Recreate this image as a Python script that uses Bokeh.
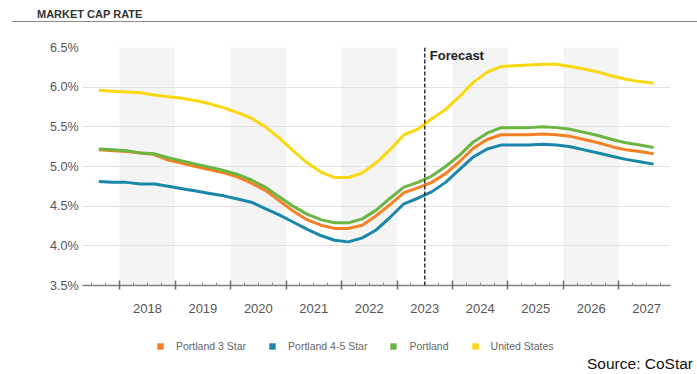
from bokeh.plotting import figure
from bokeh.layouts import column
from bokeh.models import (Range1d, FixedTicker, LinearAxis, Span, Label, Legend, Div,
                          LegendItem, PrintfTickFormatter, ColumnDataSource,
                          CustomLabelingPolicy)
from bokeh.embed import file_html
from bokeh.resources import INLINE

# ---------------- data ----------------
quarters = ["2017Q3", "2017Q4",
            "2018Q1", "2018Q2", "2018Q3", "2018Q4",
            "2019Q1", "2019Q2", "2019Q3", "2019Q4",
            "2020Q1", "2020Q2", "2020Q3", "2020Q4",
            "2021Q1", "2021Q2", "2021Q3", "2021Q4",
            "2022Q1", "2022Q2", "2022Q3", "2022Q4",
            "2023Q1", "2023Q2", "2023Q3", "2023Q4",
            "2024Q1", "2024Q2", "2024Q3", "2024Q4",
            "2025Q1", "2025Q2", "2025Q3", "2025Q4",
            "2026Q1", "2026Q2", "2026Q3", "2026Q4",
            "2027Q1", "2027Q2", "2027Q3"]

united_states = [5.96, 5.95, 5.94, 5.93, 5.90, 5.88, 5.86, 5.83, 5.79, 5.74,
                 5.68, 5.61, 5.50, 5.36, 5.20, 5.05, 4.93, 4.86, 4.86, 4.92,
                 5.05, 5.21, 5.40, 5.47, 5.60, 5.72, 5.88, 6.06, 6.19, 6.26,
                 6.27, 6.28, 6.29, 6.29, 6.26, 6.23, 6.19, 6.14, 6.10, 6.07, 6.05]
portland = [5.22, 5.21, 5.20, 5.17, 5.16, 5.11, 5.07, 5.03, 4.99, 4.95,
            4.90, 4.83, 4.74, 4.62, 4.50, 4.40, 4.33, 4.29, 4.29, 4.34,
            4.45, 4.60, 4.74, 4.80, 4.88, 5.00, 5.14, 5.31, 5.42, 5.49,
            5.49, 5.49, 5.50, 5.49, 5.47, 5.43, 5.39, 5.34, 5.30, 5.27, 5.24]
portland_3_star = [5.21, 5.20, 5.19, 5.17, 5.15, 5.08, 5.04, 5.00, 4.96, 4.92,
                   4.87, 4.79, 4.70, 4.57, 4.44, 4.33, 4.26, 4.22, 4.22, 4.26,
                   4.38, 4.52, 4.67, 4.73, 4.80, 4.91, 5.06, 5.23, 5.34, 5.40,
                   5.40, 5.40, 5.41, 5.40, 5.38, 5.34, 5.30, 5.25, 5.21, 5.19, 5.16]
portland_45_star = [4.81, 4.80, 4.80, 4.78, 4.78, 4.75, 4.72, 4.69, 4.66, 4.63,
                    4.59, 4.55, 4.47, 4.39, 4.30, 4.21, 4.13, 4.07, 4.05, 4.10,
                    4.20, 4.36, 4.53, 4.60, 4.68, 4.80, 4.96, 5.12, 5.22, 5.27,
                    5.27, 5.27, 5.28, 5.27, 5.25, 5.21, 5.17, 5.13, 5.09, 5.06, 5.03]

years = [2018, 2019, 2020, 2021, 2022, 2023, 2024, 2025, 2026, 2027]
shaded_years = [2018, 2020, 2022, 2024, 2026]
y_ticks = [3.5, 4.0, 4.5, 5.0, 5.5, 6.0, 6.5]
forecast_start = 2023.5

series_names = ["Portland 3 Star", "Portland 4-5 Star", "Portland", "United States"]
series_colors = ["#F58025", "#1A86A9", "#6BB543", "#FBD70F"]

title_text = "MARKET CAP RATE"
source_text = "Source: CoStar"

# quarter label -> decimal year (middle of quarter)
xq = [int(q[:4]) + (int(q[5]) - 1) * 0.25 + 0.125 for q in quarters]

FONT = "Liberation Sans"
W = 697
HEADER_H = 28
MAIN_H = 287
LEGEND_H = 41
SOURCE_H = 374 - HEADER_H - MAIN_H - LEGEND_H
NAN = float("nan")

# ---------------- header ----------------
header_html = (
    '<div style="position:relative;width:697px;height:28px;margin:0;padding:0;">'
    '<div style="position:absolute;left:37px;top:8px;font-family:\'Liberation Sans\';'
    'font-size:11px;font-weight:bold;color:#333333;line-height:13px;white-space:nowrap;">'
    + title_text +
    '</div>'
    '<div style="position:absolute;left:12px;width:685px;top:21px;height:0;'
    'border-top:1.5px solid #8a8a8a;"></div>'
    '</div>'
)
hdr = Div(text=header_html, width=W, height=HEADER_H, margin=(0, 0, 0, 0))

# ---------------- main ----------------
x0, x1 = 2017.33, 2027.93
p = figure(width=W, height=MAIN_H, output_backend="svg", toolbar_location=None,
           x_range=Range1d(x0, x1), y_range=Range1d(3.5, 6.5),
           x_axis_location=None, y_axis_location=None,
           min_border_left=82, min_border_right=27, min_border_top=19, min_border_bottom=30)
p.outline_line_color = None
p.background_fill_color = "white"
p.border_fill_color = "white"

# alternate year shading
p.quad(left=shaded_years, right=[y + 1 for y in shaded_years], bottom=3.5, top=6.5,
       fill_color="#f4f4f4", line_color=None, level="image")

# y axis
yaxis = LinearAxis(ticker=FixedTicker(ticks=y_ticks),
                   formatter=PrintfTickFormatter(format="%.1f%%"))
yaxis.axis_line_color = None
yaxis.major_tick_line_color = None
yaxis.minor_tick_line_color = None
yaxis.major_tick_in = 0
yaxis.major_tick_out = 0
yaxis.major_label_standoff = 4
yaxis.major_label_text_font = FONT
yaxis.major_label_text_font_size = "12.5px"
yaxis.major_label_text_color = "#555555"
p.add_layout(yaxis, "left")

p.xgrid.visible = False
p.ygrid.ticker = FixedTicker(ticks=y_ticks)
p.ygrid.grid_line_color = "#e2e2e2"
p.ygrid.grid_line_width = 1

# x axis: year boundary ticks + quarter minor ticks (labels suppressed)
minor = [y + f for y in range(2017, 2028) for f in (0.25, 0.5, 0.75)]
minor = [m for m in minor if x0 < m < x1]
xaxisA = LinearAxis(ticker=FixedTicker(ticks=years, minor_ticks=minor))
xaxisA.axis_line_color = "#808080"
xaxisA.axis_line_width = 1.5
xaxisA.major_tick_line_color = "#707070"
xaxisA.major_tick_line_width = 1.5
xaxisA.major_tick_in = 5
xaxisA.major_tick_out = 4
xaxisA.minor_tick_line_color = "#909090"
xaxisA.minor_tick_line_width = 1
xaxisA.minor_tick_in = 3
xaxisA.minor_tick_out = 0
xaxisA.major_label_policy = CustomLabelingPolicy(code="return []")
xaxisA.major_label_standoff = 0
p.add_layout(xaxisA, "below")

# x axis: year labels centred in each year
mids = [y + 0.5 for y in years]
xaxisB = LinearAxis(ticker=FixedTicker(ticks=mids, minor_ticks=[]))
xaxisB.major_label_overrides = {m: str(y) for m, y in zip(mids, years)}
xaxisB.axis_line_color = None
xaxisB.major_tick_line_color = None
xaxisB.minor_tick_line_color = None
xaxisB.major_tick_in = 0
xaxisB.major_tick_out = 0
xaxisB.major_label_standoff = 3
xaxisB.major_label_text_font = FONT
xaxisB.major_label_text_font_size = "13px"
xaxisB.major_label_text_color = "#555555"
p.add_layout(xaxisB, "below")

# lines
src = ColumnDataSource(dict(x=xq, us=united_states, p45=portland_45_star,
                            p3=portland_3_star, pt=portland))
p.line("x", "us", source=src, line_color=series_colors[3], line_width=3)
p.line("x", "p45", source=src, line_color=series_colors[1], line_width=3)
p.line("x", "p3", source=src, line_color=series_colors[0], line_width=3)
p.line("x", "pt", source=src, line_color=series_colors[2], line_width=3)

# forecast marker
p.add_layout(Span(location=forecast_start, dimension="height", line_color="#333333",
                  line_width=1.5, line_dash="4 2"))
p.add_layout(Label(x=forecast_start, y=6.5, x_offset=5, y_offset=0, text="Forecast",
                   text_font=FONT, text_font_size="13px", text_font_style="bold",
                   text_color="#222222", text_baseline="top"))

# ---------------- footer: legend ----------------
f = figure(width=W, height=LEGEND_H, output_backend="svg", toolbar_location=None,
           x_range=Range1d(0, 1), y_range=Range1d(0, 1),
           x_axis_location=None, y_axis_location=None,
           min_border_left=82, min_border_right=27, min_border_top=0, min_border_bottom=0)
f.outline_line_color = None
f.grid.visible = False
f.background_fill_color = "white"
f.border_fill_color = "white"

items = []
for name, c in zip(series_names, series_colors):
    # legend-only swatch renderer (NaN geometry -> nothing drawn in the frame)
    r = f.quad(left=[NAN], right=[NAN], top=[NAN], bottom=[NAN],
               fill_color=c, line_color=None)
    items.append(LegendItem(label=name, renderers=[r]))
legend = Legend(items=items, orientation="horizontal", location=(74, 4),
                glyph_width=8, glyph_height=8, label_standoff=12, spacing=22,
                padding=0, margin=0, border_line_color=None, background_fill_alpha=0,
                label_text_font=FONT, label_text_font_size="10.5px",
                label_text_color="#666666", label_height=12)
f.add_layout(legend, "center")

# ---------------- source line ----------------
source_html = (
    '<div style="position:relative;width:697px;height:%dpx;margin:0;padding:0;">'
    '<div style="position:absolute;right:4px;top:0px;font-family:\'Liberation Sans\';'
    'font-size:15.5px;line-height:15px;color:#111111;white-space:nowrap;">'
    % SOURCE_H + source_text + '</div></div>'
)
src_div = Div(text=source_html, width=W, height=SOURCE_H, margin=(0, 0, 0, 0))

layout = column(hdr, p, f, src_div, spacing=0)
open("out.html", "w").write(file_html(layout, INLINE))
